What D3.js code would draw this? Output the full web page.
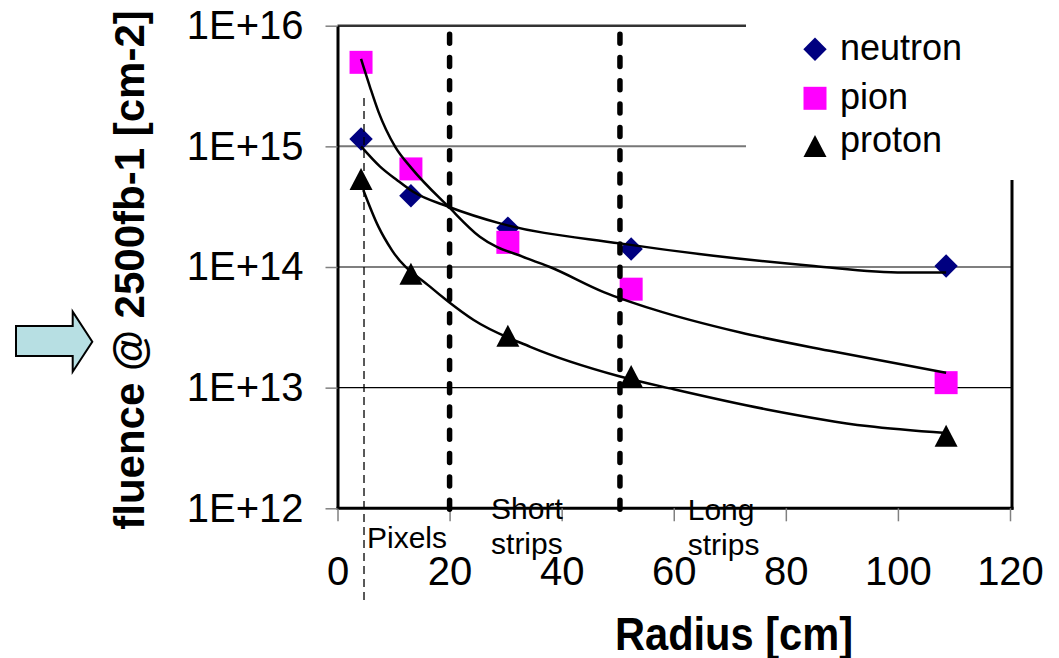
<!DOCTYPE html>
<html lang="en">
<head>
<meta charset="UTF-8">
<title>Fluence vs radius</title>
<script src="https://cdn.jsdelivr.net/npm/d3@7"></script>
<style>
  body { margin: 0; background: #fff; }
  text { font-family: "Liberation Sans", Arial, sans-serif; }
</style>
</head>
<body>
<svg id="chart" width="1059" height="658"></svg>
<script>
// measured points (radius in cm)
var radius = [4.2, 13.1, 30.4, 52.4, 108.6];
var neutron = [1.15e15, 3.9e14, 2.1e14, 1.41e14, 1.02e14];
var pion = [4.97e15, 6.5e14, 1.6e14, 6.55e13, 1.1e13];
var proton = [5.36e14, 8.8e13, 2.69e13, 1.25e13, 3.99e12];

// fit curves: [radius, fluence]
var neutronFit = [[4.2, 1.0e15], [7.6, 6.8e14], [10.6, 5.26e14], [13.5, 4.2e14], [19.8, 3.16e14],
  [29, 2.3e14], [50.4, 1.57e14], [67.1, 1.24e14], [85, 1.02e14], [101, 9.0e13], [108.6, 9.0e13]];
var pionFit = [[4.2, 5.3e15], [5.8, 3.1e15], [7.3, 1.94e15], [10.3, 9.9e14], [13.2, 6.6e14],
  [19.8, 3.16e14], [25.4, 1.78e14], [33.8, 1.18e14], [37.9, 1.0e14], [47.5, 6.2e13],
  [56.4, 4.45e13], [71.9, 2.86e13], [88.5, 1.99e13], [108.6, 1.33e13]];
var protonFit = [[4.6, 4.35e14], [7.3, 2.16e14], [9.7, 1.38e14], [16.5, 6.87e13], [19.8, 5.16e13],
  [24.3, 3.64e13], [34.4, 2.18e13], [50.1, 1.25e13], [60, 9.7e12], [76.6, 6.6e12],
  [94.5, 4.8e12], [108.6, 4.2e12]];

var xTicks = [0, 20, 40, 60, 80, 100, 120];
var yTicks = [1e12, 1e13, 1e14, 1e15, 1e16];
var boundaries = [20, 50.4];
var beamLine = 4.73;
var regions = [
  { x: 5.26, lines: ["Pixels"], y0: 548 },
  { x: 27.4, lines: ["Short", "strips"], y0: 519 },
  { x: 62.5, lines: ["Long", "strips"], y0: 520 }
];
var legendItems = ["neutron", "pion", "proton"];

var svg = d3.select("#chart");

var x = d3.scaleLinear().domain([0, 120]).range([337.5, 1010]);
var y = d3.scaleLog().domain([1e12, 1e16]).range([508.3, 25.7]);

// gridlines
var gridStyle = { 1e13: ["#000", 1.2], 1e14: ["#000", 1.2], 1e15: ["#777", 2], 1e16: ["#333", 2.5] };
svg.append("g").selectAll("line")
  .data([1e13, 1e14, 1e15, 1e16])
  .join("line")
  .attr("x1", x(0)).attr("x2", x(120) + 2)
  .attr("y1", d => y(d)).attr("y2", d => y(d))
  .attr("stroke", d => gridStyle[d][0])
  .attr("stroke-width", d => gridStyle[d][1]);

// right border
svg.append("line")
  .attr("x1", 1012).attr("x2", 1012)
  .attr("y1", y(1e16)).attr("y2", y(1e12) + 1.5)
  .attr("stroke", "#000").attr("stroke-width", 3);

// axes
var xAxis = svg.append("g")
  .attr("transform", "translate(0," + y(1e12) + ")")
  .call(d3.axisBottom(x).tickValues(xTicks).tickSize(13).tickSizeOuter(0).tickPadding(35));
xAxis.select(".domain").attr("stroke", "#000").attr("stroke-width", 3)
  .attr("d", "M" + (x(0) - 1) + ",0H" + 1013.5);
xAxis.selectAll(".tick line").attr("stroke", "#808080").attr("stroke-width", 1.5);
xAxis.selectAll(".tick text").attr("font-size", 40).attr("fill", "#000")
  .attr("font-family", "Liberation Sans, Arial, sans-serif");

var yAxis = svg.append("g")
  .attr("transform", "translate(" + x(0) + ",0)")
  .call(d3.axisLeft(y).tickValues(yTicks).tickSize(12).tickSizeOuter(0).tickPadding(22)
    .tickFormat(d => "1E+" + Math.round(Math.log10(d))));
yAxis.select(".domain").attr("stroke", "#000").attr("stroke-width", 3);
yAxis.selectAll(".tick line").attr("stroke", "#808080").attr("stroke-width", 1.5);
yAxis.selectAll(".tick text").attr("font-size", 40).attr("fill", "#000")
  .attr("font-family", "Liberation Sans, Arial, sans-serif");

// markers
var sq = 23;
var diamond = "M0," + (-11.7) + "L11.7,0L0,11.7L-11.7,0Z";
var square = "M" + (-sq / 2) + "," + (-sq / 2) + "h" + sq + "v" + sq + "h" + (-sq) + "Z";
var triangle = "M0,-11L11.5,11L-11.5,11Z";

var series = [
  { vals: neutron, fit: neutronFit, shape: diamond, color: "#000080" },
  { vals: pion, fit: pionFit, shape: square, color: "#ff00ff" },
  { vals: proton, fit: protonFit, shape: triangle, color: "#000" }
];

series.forEach(function (s) {
  svg.append("g").selectAll("path")
    .data(s.vals)
    .join("path")
    .attr("d", s.shape)
    .attr("fill", s.color)
    .attr("transform", (d, i) => "translate(" + x(radius[i]) + "," + y(d) + ")");
});

var line = d3.line()
  .x(d => x(d[0]))
  .y(d => y(d[1]))
  .curve(d3.curveMonotoneX);

series.forEach(function (s) {
  svg.append("path")
    .datum(s.fit)
    .attr("d", line)
    .attr("fill", "none")
    .attr("stroke", "#000")
    .attr("stroke-width", 2.5);
});

// region boundaries
svg.append("line")
  .attr("x1", x(beamLine)).attr("x2", x(beamLine))
  .attr("y1", 98).attr("y2", 600)
  .attr("stroke", "#000").attr("stroke-width", 1.3)
  .attr("stroke-dasharray", "8,5");

svg.append("g").selectAll("line")
  .data(boundaries)
  .join("line")
  .attr("x1", d => x(d)).attr("x2", d => x(d))
  .attr("y1", 34.2).attr("y2", 511)
  .attr("stroke", "#000").attr("stroke-width", 5.5)
  .attr("stroke-linecap", "round")
  .attr("stroke-dasharray", "9,14.3");

// region labels
regions.forEach(function (r) {
  r.lines.forEach(function (t, i) {
    svg.append("text")
      .attr("x", x(r.x))
      .attr("y", r.y0 + i * 35)
      .attr("font-size", 30)
      .text(t);
  });
});

// legend (white box hides frame behind it)
svg.append("rect")
  .attr("x", 746).attr("y", 0).attr("width", 313).attr("height", 180)
  .attr("fill", "#fff");

var legend = svg.append("g");
legendItems.forEach(function (name, i) {
  var cy = [49.3, 98.3, 146][i];
  legend.append("path")
    .attr("d", series[i].shape)
    .attr("fill", series[i].color)
    .attr("transform", "translate(815," + cy + ")");
  legend.append("text")
    .attr("x", 840)
    .attr("y", [60, 109.3, 152][i])
    .attr("font-size", 36)
    .text(name);
});

// axis titles
svg.append("text")
  .attr("transform", "translate(144,270) rotate(-90)")
  .attr("text-anchor", "middle")
  .attr("font-size", 42)
  .attr("font-weight", "bold")
  .text("fluence @ 2500fb-1 [cm-2]");

svg.append("text")
  .attr("x", 615).attr("y", 650)
  .attr("font-size", 46)
  .attr("font-weight", "bold")
  .attr("textLength", 238)
  .attr("lengthAdjust", "spacingAndGlyphs")
  .text("Radius [cm]");

// arrow on the left
svg.append("polygon")
  .attr("points", "16,326 72.7,326 72.7,311.7 92.3,341.7 72.7,371.7 72.7,356 16,356")
  .attr("fill", "#b7dfe3")
  .attr("stroke", "#000")
  .attr("stroke-width", 2);
</script>
</body>
</html>
